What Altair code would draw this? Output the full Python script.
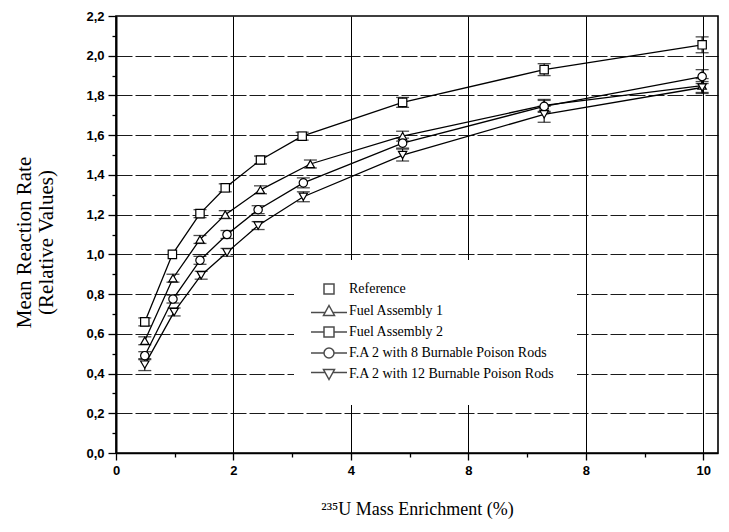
import altair as alt
import pandas as pd

# ---------------- data ----------------
series_names = [
    "Reference",
    "Fuel Assembly 1",
    "Fuel Assembly 2",
    "F.A 2 with 8 Burnable Poison Rods",
    "F.A 2 with 12 Burnable Poison Rods",
]

ref_x = [0.96]
ref_y = [1.0]

fa1_x = [0.49, 0.97, 1.43, 1.86, 2.46, 3.31, 4.88, 7.29, 9.98]
fa1_y = [0.565, 0.88, 1.075, 1.20, 1.325, 1.455, 1.595, 1.75, 1.85]
fa1_err = [0.02, 0.02, 0.02, 0.02, 0.02, 0.02, 0.025, 0.03, 0.035]

fa2_x = [0.49, 1.43, 1.86, 2.46, 3.17, 4.88, 7.29, 9.98]
fa2_y = [0.66, 1.205, 1.335, 1.475, 1.595, 1.765, 1.93, 2.055]
fa2_err = [0.02, 0.02, 0.02, 0.02, 0.02, 0.025, 0.03, 0.04]

bp8_x = [0.49, 0.97, 1.43, 1.89, 2.42, 3.19, 4.88, 7.29, 9.98]
bp8_y = [0.49, 0.775, 0.97, 1.10, 1.225, 1.36, 1.56, 1.745, 1.895]
bp8_err = [0.02, 0.02, 0.02, 0.02, 0.02, 0.025, 0.025, 0.03, 0.035]

bp12_x = [0.49, 0.99, 1.45, 1.89, 2.42, 3.19, 4.88, 7.29, 9.98]
bp12_y = [0.445, 0.71, 0.895, 1.01, 1.145, 1.29, 1.50, 1.705, 1.84]
bp12_err = [0.03, 0.02, 0.02, 0.02, 0.02, 0.025, 0.03, 0.04, 0.03]

x_tick_labels = ["0", "2", "4", "8", "8", "10"]

# ---------------- tables ----------------
point_rows = []
for name, xs, ys, es in [
    (series_names[0], ref_x, ref_y, [0.0] * len(ref_x)),
    (series_names[1], fa1_x, fa1_y, fa1_err),
    (series_names[2], fa2_x, fa2_y, fa2_err),
    (series_names[3], bp8_x, bp8_y, bp8_err),
    (series_names[4], bp12_x, bp12_y, bp12_err),
]:
    for xv, yv, ev in zip(xs, ys, es):
        point_rows.append({"series": name, "x": xv, "y": yv, "err": ev,
                           "lo": yv - ev, "hi": yv + ev})
pts = pd.DataFrame(point_rows)

line_rows = [r for r in point_rows if r["series"] != series_names[0]]
for xv, yv in zip(ref_x, ref_y):
    line_rows.append({"series": series_names[2], "x": xv, "y": yv})
lines_df = pd.DataFrame(line_rows)[["series", "x", "y"]]

# ---------------- scales & axes ----------------
xscale = alt.Scale(domain=[0, 10.25], nice=False, zero=False)
yscale = alt.Scale(domain=[0, 2.2], nice=False)

major_y = "abs(datum.value*5 - round(datum.value*5)) < 0.001"
x_label_expr = "datum.value % 2 == 0 ? " + str(x_tick_labels) + "[datum.value/2] : ''"
y_label_expr = major_y + " ? replace(format(datum.value, '.1f'), '.', ',') : ''"

x_axis = alt.Axis(
    values=list(range(0, 11)),
    labelExpr=x_label_expr,
    title="\u00b2\u00b3\u2075U  Mass Enrichment (%)",
    grid=True, gridColor="black", gridWidth=1,
    gridOpacity={"condition": {"test": "datum.value % 2 == 0 && datum.value > 0", "value": 1}, "value": 0},
    tickSize={"condition": {"test": "datum.value % 2 == 0", "value": 7}, "value": 4},
    tickColor="black", tickWidth=1.3,
    domainColor="black", domainWidth=1.6,
    labelFont="Liberation Sans", labelFontWeight="bold", labelFontSize=13,
    labelColor="black", labelPadding=4, labelOverlap=False, labelFlush=False,
    titleFont="Liberation Serif", titleFontSize=18, titleFontWeight="normal",
    titleColor="black", titlePadding=23,
)

y_axis = alt.Axis(
    values=[i / 10 for i in range(23)],
    labelExpr=y_label_expr,
    title=["Mean Reaction Rate", "(Relative Values)"],
    grid=True, gridColor="black", gridWidth=0.9, gridDash=[16, 3],
    gridOpacity={"condition": {"test": major_y + " && datum.value > 0.05 && datum.value < 2.15", "value": 1}, "value": 0},
    tickSize={"condition": {"test": major_y, "value": 8}, "value": 4},
    tickColor="black", tickWidth=1.3,
    domainColor="black", domainWidth=2,
    labelFont="Liberation Sans", labelFontWeight="bold", labelFontSize=13,
    labelColor="black", labelPadding=4, labelOverlap=False, labelFlush=False,
    titleFont="Liberation Serif", titleFontSize=21, titleFontWeight="normal",
    titleColor="black", titlePadding=29, titleLineHeight=22, titleY=226,
)

X = alt.X("x:Q", scale=xscale, axis=x_axis)
Y = alt.Y("y:Q", scale=yscale, axis=y_axis)

# ---------------- layers ----------------
lines = alt.Chart(lines_df).mark_line(color="black", strokeWidth=1.3).encode(
    x=X, y=Y, detail="series:N", order="x:Q"
)

err_base = alt.Chart(pts).transform_filter("datum.err > 0")
err_rules = err_base.mark_rule(color="black", strokeWidth=1.1).encode(
    x=X, y=alt.Y("lo:Q", scale=yscale, axis=y_axis), y2="hi:Q"
)
cap_lo = err_base.mark_tick(orient="horizontal", size=13, thickness=1.3, color="black").encode(
    x=X, y=alt.Y("lo:Q", scale=yscale, axis=y_axis)
)
cap_hi = err_base.mark_tick(orient="horizontal", size=13, thickness=1.3, color="black").encode(
    x=X, y=alt.Y("hi:Q", scale=yscale, axis=y_axis)
)

points = alt.Chart(pts).mark_point(
    fill="white", fillOpacity=1, stroke="black", strokeWidth=1.2, opacity=1, size=70
).encode(
    x=X, y=Y,
    shape=alt.Shape("series:N", scale=alt.Scale(
        domain=series_names,
        range=["square", "triangle-up", "square", "circle", "triangle-down"]),
        legend=None),
)

legend_paths = [
    "M-1,-1H1V1H-1Z",
    "M0,-1.1L1.1,0.9H-1.1Z M-3.6,0.3H-0.75 M0.75,0.3H3.6",
    "M-1,-1H1V1H-1Z M-3.6,0H-1 M1,0H3.6",
    "M-1,0A1,1 0 1,1 1,0A1,1 0 1,1 -1,0Z M-3.6,0H-1 M1,0H3.6",
    "M0,1.1L1.1,-0.9H-1.1Z M-3.6,-0.3H-0.75 M0.75,-0.3H3.6",
]

# legend-only layer: its marks are moved outside the x domain and clipped away
legend_layer = alt.Chart(pts).transform_calculate(xoff="datum.x + 100").mark_point(
    color="black", filled=False, strokeWidth=1.1, size=64, clip=True,
).encode(
    x=alt.X("xoff:Q", scale=xscale, axis=x_axis), y=Y,
    shape=alt.Shape("series:N", scale=alt.Scale(domain=series_names, range=legend_paths),
                    legend=alt.Legend(
                        title=None, orient="none", legendX=178, legendY=244,
                        fillColor="white", padding=22,
                        labelFont="Liberation Serif", labelFontSize=14, labelColor="black",
                        labelOffset=13, symbolOffset=6, rowPadding=5,
                        labelLimit=400,
                    )),
)

chart = alt.layer(lines, err_rules, cap_lo, cap_hi, points, legend_layer).resolve_scale(
    shape="independent"
).properties(
    width=602, height=437,
    autosize=alt.AutoSizeParams(type="none"),
    padding={"left": 108, "top": 8, "right": 3, "bottom": 70},
    background="white",
).configure_view(stroke="black", strokeWidth=1.6)

chart.save("out.html", embed_options={"renderer": "svg", "actions": False})
